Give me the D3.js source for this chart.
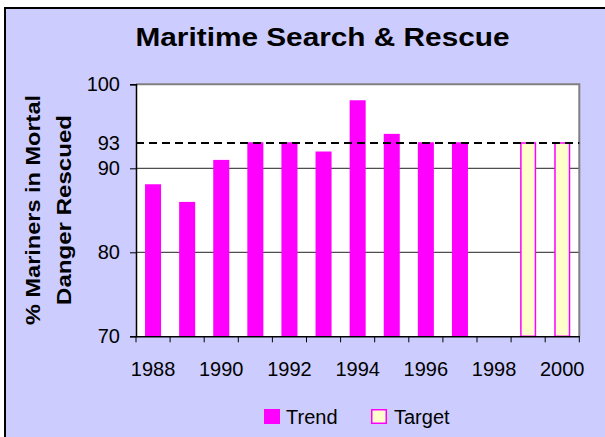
<!DOCTYPE html>
<html>
<head>
<meta charset="utf-8">
<script src="https://cdn.jsdelivr.net/npm/d3@7/dist/d3.min.js"></script>
<style>
  html, body { margin: 0; padding: 0; background: #ffffff; }
  svg { display: block; font-family: "Liberation Sans", Arial, sans-serif; }
</style>
</head>
<body>
<svg id="chart" width="605" height="437"></svg>
<script>
// ---- Data ----
const years = ["1988","1989","1990","1991","1992","1993","1994","1995","1996","1997","1998","1999","2000"];
const trendValues = [88.1, 86.0, 91.0, 93.1, 93.1, 92.0, 98.1, 94.1, 93.1, 93.1, null, null, null];
const targetValues = [null, null, null, null, null, null, null, null, null, null, null, 93.1, 93.1];
const yTickValues = [70, 80, 90, 100];
const xTickLabels = ["1988","1990","1992","1994","1996","1998","2000"];
const targetLine = 93;
const targetLineLabel = "93";
const titleText = "Maritime Search & Rescue";
const yTitleLines = ["% Mariners in Mortal", "Danger Rescued"];
const legendItems = ["Trend", "Target"];

// ---- Layout ----
const W = 605, H = 437;
const plot = { left: 136, right: 579.3, top: 84.3, bottom: 336.3 };
const svg = d3.select("#chart");
const FONT = "Liberation Sans, Arial, sans-serif";

// chart background
svg.append("rect").attr("x", 0).attr("y", 0).attr("width", W).attr("height", H).attr("fill", "#ffffff");
svg.append("rect").attr("x", 5).attr("y", 8).attr("width", W + 20).attr("height", H + 20)
  .attr("fill", "#CCCCFF").attr("stroke", "#000").attr("stroke-width", 2);

const x = d3.scaleBand().domain(years).range([plot.left, plot.right]).paddingInner(0.53).paddingOuter(0.265);
const xb = d3.scaleBand().domain(years).range([plot.left, plot.right]);
const y = d3.scaleLinear().domain([70, 100]).range([plot.bottom, plot.top]);

// plot area
svg.append("rect").attr("x", plot.left).attr("y", plot.top)
  .attr("width", plot.right - plot.left).attr("height", plot.bottom - plot.top)
  .attr("fill", "#ffffff");

// gridlines
svg.append("g").selectAll("line").data(yTickValues.filter(v => v > 70 && v < 100)).join("line")
  .attr("x1", plot.left).attr("x2", plot.right)
  .attr("y1", d => y(d)).attr("y2", d => y(d))
  .attr("stroke", "#222").attr("stroke-width", 1);

// plot border top/right
svg.append("path")
  .attr("d", `M${plot.left},${plot.top}H${plot.right}V${plot.bottom}`)
  .attr("fill", "none").attr("stroke", "#808080").attr("stroke-width", 2);

// trend bars
svg.append("g").selectAll("rect").data(years.map((yr, i) => ({ yr, v: trendValues[i] })).filter(d => d.v != null))
  .join("rect")
  .attr("x", d => x(d.yr)).attr("width", x.bandwidth())
  .attr("y", d => y(d.v)).attr("height", d => y(70) - y(d.v))
  .attr("fill", "#FF00FF");

// target bars
svg.append("g").selectAll("rect").data(years.map((yr, i) => ({ yr, v: targetValues[i] })).filter(d => d.v != null))
  .join("rect")
  .attr("x", d => x(d.yr) + 0.75).attr("width", x.bandwidth() - 1.5)
  .attr("y", d => y(d.v) + 0.75).attr("height", d => y(70) - y(d.v) - 0.75)
  .attr("fill", "#FFFFCC").attr("stroke", "#FF00FF").attr("stroke-width", 1.5);

// dashed target line
svg.append("line")
  .attr("x1", plot.left).attr("x2", plot.right)
  .attr("y1", y(targetLine)).attr("y2", y(targetLine))
  .attr("stroke", "#000").attr("stroke-width", 2).attr("stroke-dasharray", "8,5");

// y axis
const yAxis = d3.axisLeft(y).tickValues(yTickValues).tickSize(6).tickPadding(10).tickFormat(d3.format("d"));
const gy = svg.append("g").attr("transform", `translate(${plot.left},0)`).call(yAxis);
gy.select(".domain").attr("stroke", "#000").attr("stroke-width", 1.5);
gy.selectAll(".tick line").attr("stroke", "#000");
gy.selectAll(".tick text").attr("font-size", 20).attr("fill", "#000").attr("font-family", FONT);
svg.append("text").attr("x", plot.left - 16).attr("y", y(targetLine)).attr("dy", "0.32em")
  .attr("text-anchor", "end").attr("font-size", 20).text(targetLineLabel);

// x axis
const xAxis = d3.axisBottom(xb).tickSize(0).tickFormat("");
const gx = svg.append("g").attr("transform", `translate(0,${plot.bottom})`).call(xAxis);
gx.select(".domain").attr("stroke", "#000").attr("stroke-width", 1.5);
const boundaries = years.map(yr => xb(yr)).concat([plot.right]);
svg.append("g").selectAll("line").data(boundaries).join("line")
  .attr("x1", d => d).attr("x2", d => d)
  .attr("y1", plot.bottom).attr("y2", plot.bottom + 6)
  .attr("stroke", "#000").attr("stroke-width", 1);
svg.append("g").selectAll("text").data(xTickLabels).join("text")
  .attr("x", d => xb(d) + xb.bandwidth() / 2).attr("y", plot.bottom + 40)
  .attr("text-anchor", "middle").attr("font-size", 20).attr("fill", "#000").text(d => d);

// title
svg.append("text").attr("x", 322.5).attr("y", 46).attr("text-anchor", "middle")
  .attr("font-size", 25).attr("font-weight", "bold")
  .attr("textLength", 374).attr("lengthAdjust", "spacingAndGlyphs").text(titleText);

// y title
const yc = 210;
svg.append("text").attr("transform", `translate(40,${yc}) rotate(-90)`)
  .attr("text-anchor", "middle").attr("font-size", 21).attr("font-weight", "bold")
  .attr("textLength", 230).attr("lengthAdjust", "spacingAndGlyphs").text(yTitleLines[0]);
svg.append("text").attr("transform", `translate(71,${yc}) rotate(-90)`)
  .attr("text-anchor", "middle").attr("font-size", 21).attr("font-weight", "bold")
  .attr("textLength", 190).attr("lengthAdjust", "spacingAndGlyphs").text(yTitleLines[1]);

// legend
const lg = svg.append("g");
lg.append("rect").attr("x", 264).attr("y", 409).attr("width", 16).attr("height", 15).attr("fill", "#FF00FF");
lg.append("text").attr("x", 286).attr("y", 424).attr("font-size", 20).text(legendItems[0]);
lg.append("rect").attr("x", 371.75).attr("y", 409.75).attr("width", 14.5).attr("height", 13.5)
  .attr("fill", "#FFFFCC").attr("stroke", "#FF00FF").attr("stroke-width", 1.5);
lg.append("text").attr("x", 394).attr("y", 424).attr("font-size", 20).text(legendItems[1]);
</script>
</body>
</html>
